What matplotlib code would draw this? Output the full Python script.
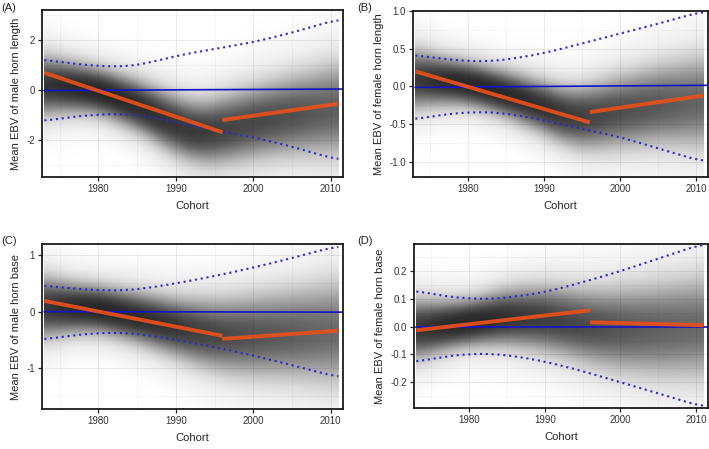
import numpy as np
import matplotlib
matplotlib.use("Agg")
import matplotlib.pyplot as plt

plt.rcParams['font.family'] = ['Liberation Sans', 'DejaVu Sans']

# ---------------- data ----------------
cloud_years = [1973, 1976, 1980, 1985, 1990, 1993, 1996, 2000, 2005, 2011]
A_center = [0.20, 0.15, -0.02, -0.60, -1.40, -1.72, -1.60, -1.30, -1.00, -0.75]
A_sd = [0.60, 0.50, 0.45, 0.50, 0.60, 0.62, 0.70, 0.75, 0.82, 1.00]
B_center = [0.10, 0.08, 0.04, -0.10, -0.28, -0.40, -0.41, -0.33, -0.25, -0.20]
B_sd = [0.20, 0.16, 0.14, 0.15, 0.17, 0.19, 0.22, 0.25, 0.28, 0.33]
C_center = [0.08, 0.07, 0.05, -0.10, -0.28, -0.37, -0.43, -0.43, -0.40, -0.37]
C_sd = [0.28, 0.22, 0.20, 0.22, 0.26, 0.30, 0.33, 0.38, 0.42, 0.50]
D_center = [-0.010, 0.000, 0.015, 0.035, 0.030, 0.015, 0.000, -0.010, -0.010, 0.000]
D_sd = [0.055, 0.045, 0.040, 0.050, 0.060, 0.065, 0.070, 0.080, 0.090, 0.100]

ci_years = [1973, 1976, 1980, 1983, 1986, 1990, 1995, 2000, 2005, 2011]
A_ci_up = [1.24, 1.08, 0.97, 0.93, 1.05, 1.38, 1.65, 1.92, 2.30, 2.85]
A_ci_lo = [-1.24, -1.08, -0.97, -0.93, -1.02, -1.30, -1.60, -1.88, -2.25, -2.80]
B_ci_up = [0.42, 0.37, 0.335, 0.33, 0.37, 0.44, 0.57, 0.70, 0.83, 1.00]
B_ci_lo = [-0.44, -0.38, -0.34, -0.34, -0.37, -0.45, -0.56, -0.67, -0.82, -1.00]
C_ci_up = [0.47, 0.41, 0.38, 0.37, 0.41, 0.50, 0.63, 0.78, 0.95, 1.17]
C_ci_lo = [-0.50, -0.43, -0.38, -0.37, -0.41, -0.50, -0.63, -0.78, -0.95, -1.17]
D_ci_up = [0.131, 0.112, 0.101, 0.099, 0.108, 0.124, 0.160, 0.200, 0.245, 0.300]
D_ci_lo = [-0.128, -0.110, -0.098, -0.097, -0.106, -0.125, -0.160, -0.200, -0.240, -0.290]

hline_years = [1973, 2012]
A_hline = [-0.01, 0.05]
B_hline = [-0.012, 0.016]
C_hline = [0.0, -0.01]
D_hline = [0.0, 0.0]

seg1_years = [1973, 1996]
seg2_years = [1996, 2011]
A_seg1 = [0.70, -1.68]; A_seg2 = [-1.19, -0.54]
B_seg1 = [0.20, -0.476]; B_seg2 = [-0.34, -0.12]
C_seg1 = [0.19, -0.43]; C_seg2 = [-0.485, -0.34]
D_seg1 = [-0.013, 0.059]; D_seg2 = [0.016, 0.005]

ylabels = ["Mean EBV of male horn length", "Mean EBV of female horn length",
           "Mean EBV of male horn base", "Mean EBV of female horn base"]
panel_tags = ["(A)", "(B)", "(C)", "(D)"]
ylims = [(-3.47, 3.21), (-1.2, 1.0), (-1.73, 1.2), (-0.293, 0.298)]
yticks = [[-2, 0, 2], [-1.0, -0.5, 0.0, 0.5, 1.0], [-1, 0, 1], [-0.2, -0.1, 0.0, 0.1, 0.2]]
yticklabels = [["-2", "0", "2"], ["-1.0", "-0.5", "0.0", "0.5", "1.0"],
               ["-1", "0", "1"], ["-0.2", "-0.1", "0.0", "0.1", "0.2"]]
yminor = [[-3, -1, 1, 3], [-0.75, -0.25, 0.25, 0.75], [-1.5, -0.5, 0.5],
          [-0.25, -0.15, -0.05, 0.05, 0.15, 0.25]]
xticks = [1980, 1990, 2000, 2010]
xminor = [1975, 1985, 1995, 2005]

panels = [
    (A_center, A_sd, A_ci_up, A_ci_lo, A_hline, A_seg1, A_seg2),
    (B_center, B_sd, B_ci_up, B_ci_lo, B_hline, B_seg1, B_seg2),
    (C_center, C_sd, C_ci_up, C_ci_lo, C_hline, C_seg1, C_seg2),
    (D_center, D_sd, D_ci_up, D_ci_lo, D_hline, D_seg1, D_seg2),
]

# ---------------- layout ----------------
W, H = 709, 449
fig = plt.figure(figsize=(W / 100, H / 100), dpi=100)
boxes_px = [(42, 343, 10, 177), (413, 708, 11, 177), (42, 343, 244, 409), (414, 708, 244, 408)]
tag_px = [(1, 8), (357, 8), (1, 241), (357, 241)]


def smooth_curve(xk, yk, xs):
    y = np.interp(xs, xk, yk)
    k = 20
    pad = np.pad(y, k, mode='edge')
    ker = np.ones(2 * k + 1) / (2 * k + 1)
    return np.convolve(pad, ker, mode='valid')


def draw_cloud(ax, xk, center, sd, ylim):
    nx, ny = 400, 400
    xs = np.linspace(xk[0], xk[-1], nx)
    ys = np.linspace(ylim[0], ylim[1], ny)
    cc = smooth_curve(xk, center, xs)
    ss = smooth_curve(xk, sd, xs)
    smin = ss.min()
    d = (ys[:, None] - cc[None, :]) / ss[None, :]
    r = (smin / ss)[None, :]
    dens = r * (2.0 * np.exp(-d ** 2 / 2) + 0.35 * np.exp(-d ** 2 / (2 * 1.9 ** 2)))
    alpha = 1 - np.exp(-dens)
    img = np.zeros((ny, nx, 4))
    img[..., 0] = img[..., 1] = img[..., 2] = 0.06
    img[..., 3] = np.clip(alpha, 0, 0.93)
    ax.imshow(img, extent=[xs[0], xs[-1], ys[0], ys[-1]], origin='lower',
              aspect='auto', interpolation='bilinear', zorder=2)


for i, (center, sd, ci_up, ci_lo, hl, s1, s2) in enumerate(panels):
    l, r, t, b = boxes_px[i]
    ax = fig.add_axes([l / W, 1 - b / H, (r - l) / W, (b - t) / H])
    ax.set_facecolor('white')

    # grid
    for xv in xticks:
        ax.axvline(xv, color='#e6e6e6', lw=0.6, zorder=1)
    for xv in xminor:
        ax.axvline(xv, color='#f0f0f0', lw=0.4, zorder=1)
    for yv in yticks[i]:
        ax.axhline(yv, color='#e6e6e6', lw=0.6, zorder=1)
    for yv in yminor[i]:
        ax.axhline(yv, color='#f0f0f0', lw=0.4, zorder=1)

    draw_cloud(ax, cloud_years, center, sd, ylims[i])

    xs = np.linspace(ci_years[0], ci_years[-1], 300)
    ax.plot(xs, smooth_curve(ci_years, ci_up, xs), color='#2a2ad0', lw=1.5,
            linestyle=(0, (1, 1.8)), zorder=3)
    ax.plot(xs, smooth_curve(ci_years, ci_lo, xs), color='#2a2ad0', lw=1.5,
            linestyle=(0, (1, 1.8)), zorder=3)
    ax.plot(hline_years, hl, color='#1414c8', lw=1.2, zorder=4)
    ax.plot(seg1_years, s1, color='#e8501a', lw=2.8, alpha=0.92, zorder=5,
            solid_capstyle='butt')
    ax.plot(seg2_years, s2, color='#e8501a', lw=2.8, alpha=0.92, zorder=5,
            solid_capstyle='butt')

    ax.set_xlim(1972.7, 2011.6)
    ax.set_ylim(*ylims[i])
    ax.set_xticks(xticks)
    ax.set_xticklabels([str(v) for v in xticks])
    ax.set_yticks(yticks[i])
    ax.set_yticklabels(yticklabels[i])
    ax.tick_params(axis='both', direction='out', length=3, width=0.9,
                   labelsize=7, colors='#222222', labelcolor='#333333', pad=2)
    for sp in ax.spines.values():
        sp.set_linewidth(1.3)
        sp.set_color('#1a1a1a')
        sp.set_zorder(6)
    ax.set_xlabel("Cohort", fontsize=8, labelpad=5, color='#222222')
    ax.set_ylabel(ylabels[i], fontsize=8, labelpad=4, color='#222222')
    tx, ty = tag_px[i]
    fig.text(tx / W, 1 - ty / H, panel_tags[i], fontsize=8, va='center', ha='left',
             color='#222222')

fig.savefig("out.png", dpi=100)
